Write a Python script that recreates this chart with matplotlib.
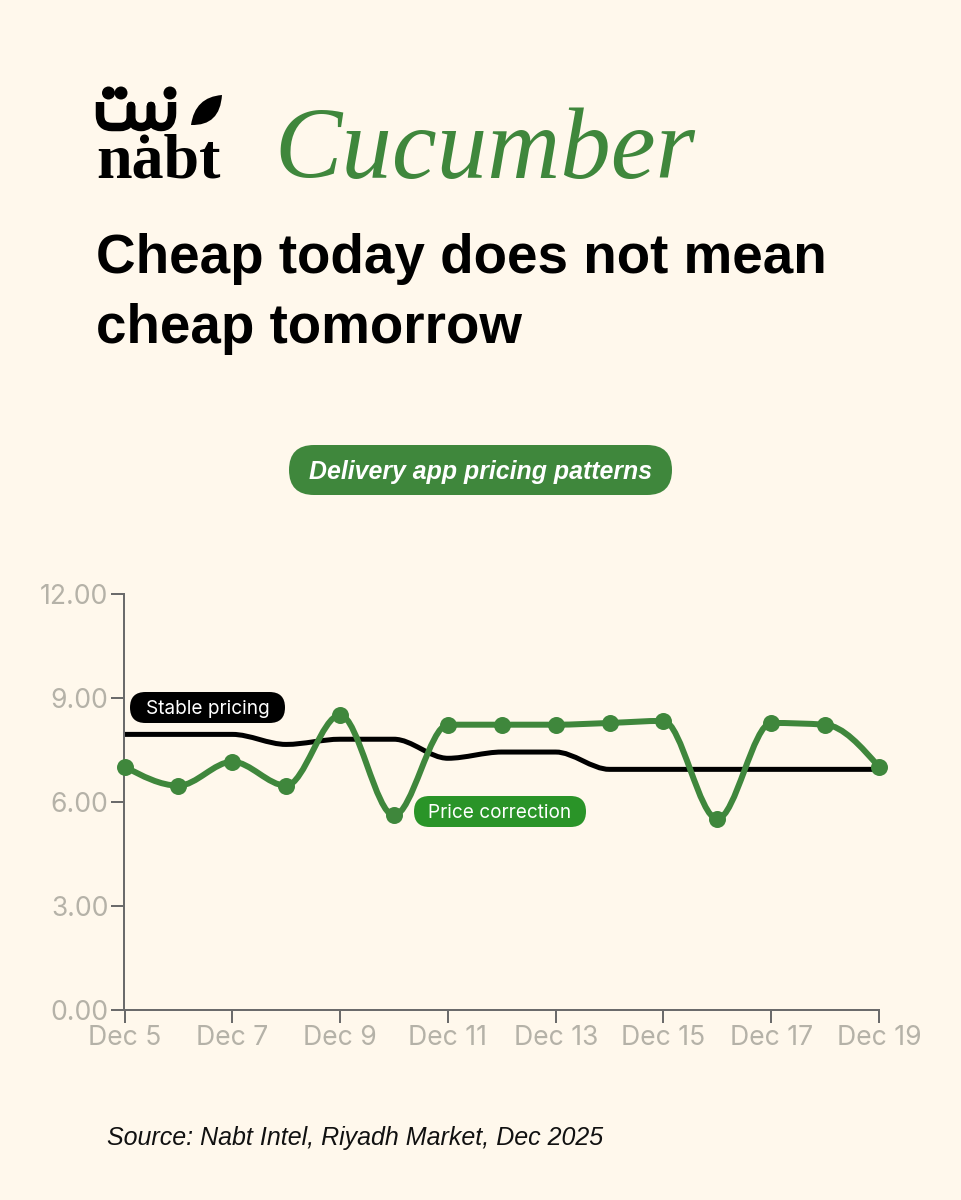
import numpy as np
import matplotlib
matplotlib.use("Agg")
import matplotlib.pyplot as plt
from matplotlib.patches import FancyBboxPatch, PathPatch, Circle
from matplotlib.path import Path

days = list(range(5, 20))
tick_days = days[::2]
tick_labels = [f"Dec {d}" for d in tick_days]
y_ticks = [0, 3, 6, 9, 12]
stable_pricing = [7.96, 7.96, 7.96, 7.67, 7.82, 7.82, 7.27, 7.45, 7.45, 6.95, 6.95, 6.95, 6.95, 6.95, 6.95]
price_correction = [7.03, 6.48, 7.17, 6.48, 8.52, 5.62, 8.24, 8.24, 8.24, 8.29, 8.35, 5.52, 8.29, 8.24, 7.02]

BG = "#FFF8EC"
GREEN = "#3F873C"
PILL = "#2A9428"
GREY = "#B5B2A8"
AX = "#6B6B6B"
W, H = 961, 1200
plt.rcParams["font.family"] = ["Inter", "DejaVu Sans"]


def monotone_path(x, y):
    x = np.asarray(x, float)
    y = np.asarray(y, float)
    h = np.diff(x)
    s = np.diff(y) / h
    m = np.zeros_like(y)
    for i in range(1, len(y) - 1):
        if s[i - 1] * s[i] > 0:
            p = (s[i - 1] * h[i] + s[i] * h[i - 1]) / (h[i] + h[i - 1])
            m[i] = (np.sign(s[i - 1]) + np.sign(s[i])) * min(abs(s[i - 1]), abs(s[i]), 0.5 * abs(p))
    m[0] = (3 * s[0] - m[1]) / 2
    m[-1] = (3 * s[-1] - m[-2]) / 2
    verts = [(x[0], y[0])]
    codes = [Path.MOVETO]
    for i in range(len(h)):
        verts += [(x[i] + h[i] / 3, y[i] + m[i] * h[i] / 3),
                  (x[i + 1] - h[i] / 3, y[i + 1] - m[i + 1] * h[i] / 3),
                  (x[i + 1], y[i + 1])]
        codes += [Path.CURVE4] * 3
    return Path(verts, codes)


fig = plt.figure(figsize=(W / 72, H / 72), dpi=72, facecolor=BG)
deco = fig.add_axes([0, 0, 1, 1])
deco.set_xlim(0, W)
deco.set_ylim(H, 0)
deco.axis("off")

# chart
ax = fig.add_axes([124.5 / W, 1 - 1010 / H, (879 - 124.5) / W, (1010 - 594.5) / H])
ax.set_facecolor("none")
ax.set_xlim(5, 19)
ax.set_ylim(0, 12)
for s in ("top", "right"):
    ax.spines[s].set_visible(False)
for s in ("left", "bottom"):
    ax.spines[s].set_color(AX)
    ax.spines[s].set_linewidth(2)
ax.set_xticks(tick_days, tick_labels)
ax.set_yticks(y_ticks, [f"{v:.2f}" for v in y_ticks])
ax.tick_params(axis="both", length=13, width=2, color=AX, labelcolor=GREY, labelsize=26.5)
ax.tick_params(axis="x", pad=2)
ax.tick_params(axis="y", pad=3)
ax.add_patch(PathPatch(monotone_path(days, stable_pricing), fc="none", ec="#000000", lw=5, capstyle="butt", clip_on=False))
ax.add_patch(PathPatch(monotone_path(days, price_correction), fc="none", ec=GREEN, lw=6, clip_on=False, zorder=3))
ax.plot(days, price_correction, ls="none", marker="o", ms=17, mfc=GREEN, mec="none", clip_on=False, zorder=4)

top = fig.add_axes([0, 0, 1, 1])
top.set_xlim(0, W)
top.set_ylim(H, 0)
top.axis("off")


def pill(target, x0, y0, x1, y1, color, label, size, **kw):
    r = (y1 - y0) / 2
    target.add_patch(FancyBboxPatch((x0 + r, y0 + r), x1 - x0 - 2 * r, 0,
                                    boxstyle=f"round,pad={r},rounding_size={r}",
                                    fc=color, ec="none", mutation_aspect=1))
    target.text((x0 + x1) / 2, (y0 + y1) / 2, label, color="white", fontsize=size,
                ha="center", va="center_baseline", **kw)


pill(deco, 289, 445, 672, 495, GREEN, "Delivery app pricing patterns", 24.9, style="italic", weight="bold",
     family="Liberation Sans")
pill(top, 130, 692, 285, 723, "#000000", "Stable pricing", 19)
pill(top, 414, 796, 586, 827, PILL, "Price correction", 19)

# heading
deco.text(96, 273, "Cheap today does not mean", fontsize=54.7, weight="bold", family="Liberation Sans",
          color="#000000", va="baseline")
deco.text(96, 343, "cheap tomorrow", fontsize=54.7, weight="bold", family="Liberation Sans",
          color="#000000", va="baseline")
deco.text(274, 178, "Cucumber", fontsize=101, style="italic", family="Liberation Serif", color=GREEN, va="baseline")
deco.text(107, 1145, "Source: Nabt Intel, Riyadh Market, Dec 2025", fontsize=25, style="italic",
          family="Liberation Sans", color="#111111", va="baseline")

# logo: word, leaf and the Arabic mark drawn as shapes
deco.text(96, 178, "nabt", fontsize=64, weight="bold", family="Liberation Serif", color="#000000", va="baseline")
deco.add_patch(Circle((144.5, 139), 4.5, fc="#000000", ec="none"))
leaf = Path([(222, 95), (195, 97), (191, 125), (220, 126), (222, 95)],
            [Path.MOVETO, Path.CURVE3, Path.CURVE3, Path.CURVE3, Path.CURVE3])
deco.add_patch(PathPatch(leaf, fc="#000000", ec="none"))
mark = Path([(100, 102), (100, 115),
             (100, 127), (112, 127), (120, 127), (131, 127), (131, 116), (131, 106),
             (131, 116), (131, 127), (141, 127), (151, 127), (151, 116), (151, 106),
             (151, 116), (151, 127), (161, 127), (172, 127), (172, 113), (172, 102)],
            [Path.MOVETO, Path.LINETO,
             Path.CURVE3, Path.CURVE3, Path.LINETO, Path.CURVE3, Path.CURVE3, Path.LINETO,
             Path.LINETO, Path.CURVE3, Path.CURVE3, Path.CURVE3, Path.CURVE3, Path.LINETO,
             Path.LINETO, Path.CURVE3, Path.CURVE3, Path.CURVE3, Path.CURVE3, Path.LINETO])
deco.add_patch(PathPatch(mark, fc="none", ec="#000000", lw=8.5, capstyle="butt", joinstyle="round"))
for cx, cy in [(108.5, 93), (121, 93), (170, 93)]:
    deco.add_patch(Circle((cx, cy), 6.5, fc="#000000", ec="none"))

fig.savefig("out.png", dpi=72, facecolor=BG)
